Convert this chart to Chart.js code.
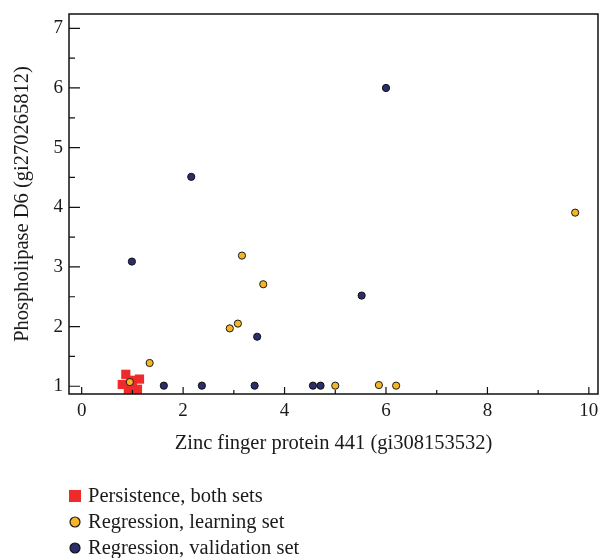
<!DOCTYPE html>
<html>
<head>
<meta charset="utf-8">
<script src="https://cdn.jsdelivr.net/npm/chart.js@4/dist/chart.umd.min.js"></script>
<style>
  html, body { margin: 0; padding: 0; background: #fff; }
  #wrap { width: 600px; height: 558px; }
</style>
</head>
<body>
<div id="wrap"><canvas id="my-chart" width="600" height="558"></canvas></div>
<script>
// data
const persistX = [0.87, 0.80, 1.14, 0.92, 1.10, 1.00, 0.97];
const persistY = [1.20, 1.03, 1.12, 0.95, 0.95, 1.00, 1.10];

const learnX = [0.95, 1.34, 2.92, 3.08, 3.16, 3.58, 5.00, 5.86, 6.20, 9.73];
const learnY = [1.07, 1.39, 1.97, 2.05, 3.19, 2.71, 1.01, 1.02, 1.01, 3.91];

const validX = [0.99, 2.16, 6.00, 5.52, 3.46, 1.62, 2.37, 3.41, 4.56, 4.71];
const validY = [3.09, 4.51, 6.00, 2.52, 1.83, 1.01, 1.01, 1.01, 1.01, 1.01];

const xTicks = [0, 2, 4, 6, 8, 10];
const xMinor = [1, 3, 5, 7, 9];
const yTicks = [1, 2, 3, 4, 5, 6, 7];
const yMinor = [1.5, 2.5, 3.5, 4.5, 5.5, 6.5];

const seriesNames = ['Persistence, both sets', 'Regression, learning set', 'Regression, validation set'];

const pts = (xs, ys) => xs.map((x, i) => ({ x: x, y: ys[i] }));
const serif = "'Liberation Serif', 'DejaVu Serif', serif";

// inward ticks + frame
const frameTicks = {
  id: 'frameTicks',
  afterDatasetsDraw: chart => {
    const ctx = chart.ctx;
    const a = chart.chartArea;
    const xs = chart.scales.x, ys = chart.scales.y;
    ctx.save();
    ctx.strokeStyle = '#111';
    ctx.lineWidth = 1.5;
    ctx.strokeRect(a.left, a.top, a.right - a.left, a.bottom - a.top);
    ctx.lineWidth = 1.2;
    ctx.beginPath();
    yTicks.forEach(v => { const p = ys.getPixelForValue(v); ctx.moveTo(a.left, p); ctx.lineTo(a.left + 11, p); });
    yMinor.forEach(v => { const p = ys.getPixelForValue(v); ctx.moveTo(a.left, p); ctx.lineTo(a.left + 6, p); });
    xTicks.forEach(v => { const p = xs.getPixelForValue(v); ctx.moveTo(p, a.bottom); ctx.lineTo(p, a.bottom - 7); });
    xMinor.forEach(v => { const p = xs.getPixelForValue(v); ctx.moveTo(p, a.bottom); ctx.lineTo(p, a.bottom - 4); });
    ctx.stroke();
    ctx.restore();
  }
};

// stacked legend under the chart
const stackLegend = {
  id: 'stackLegend',
  afterDraw: chart => {
    const ctx = chart.ctx;
    ctx.save();
    ctx.font = '20.5px ' + serif;
    ctx.textBaseline = 'middle';
    ctx.textAlign = 'left';
    chart.data.datasets.forEach((ds, i) => {
      const y = 496 + i * 26;
      const x = 75;
      ctx.fillStyle = ds.backgroundColor;
      ctx.strokeStyle = ds.borderColor;
      if (ds.pointStyle === 'rect') {
        ctx.fillRect(x - 6, y - 6, 12, 12);
      } else {
        ctx.beginPath();
        ctx.arc(x, y, 5, 0, Math.PI * 2);
        ctx.fill();
        ctx.lineWidth = 1.2;
        ctx.stroke();
      }
      ctx.fillStyle = '#1a1a1a';
      ctx.fillText(ds.label, 88, y + 1);
    });
    ctx.restore();
  }
};

new Chart(document.getElementById('my-chart'), {
  type: 'scatter',
  data: {
    datasets: [{
      label: seriesNames[0],
      data: pts(persistX, persistY),
      pointStyle: 'rect',
      pointRadius: 6.5,
      backgroundColor: '#ee2a2a',
      borderColor: '#ee2a2a',
      borderWidth: 0,
      order: 2
    }, {
      label: seriesNames[1],
      data: pts(learnX, learnY),
      pointStyle: 'circle',
      pointRadius: 3.6,
      backgroundColor: '#f6b623',
      borderColor: '#1a1a1a',
      borderWidth: 1,
      order: 0
    }, {
      label: seriesNames[2],
      data: pts(validX, validY),
      pointStyle: 'circle',
      pointRadius: 3.6,
      backgroundColor: '#2b2d6c',
      borderColor: '#111',
      borderWidth: 1,
      order: 1
    }]
  },
  options: {
    responsive: false,
    animation: false,
    layout: { autoPadding: false, padding: { left: 10, top: 14, right: 2, bottom: 102 } },
    plugins: {
      legend: { display: false },
      tooltip: { enabled: false }
    },
    scales: {
      x: {
        type: 'linear',
        min: -0.25,
        max: 10.18,
        afterBuildTicks: s => { s.ticks = xTicks.map(v => ({ value: v })); },
        afterFit: s => { s.height = 62; s.paddingRight = 0; s.paddingLeft = 0; },
        grid: { display: false, drawTicks: false },
        border: { display: false },
        ticks: { color: '#1a1a1a', padding: 6, maxRotation: 0, font: { family: serif, size: 19 } },
        title: {
          display: true,
          text: 'Zinc finger protein 441 (gi308153532)',
          color: '#1a1a1a',
          padding: { top: 2, bottom: 0 },
          font: { family: serif, size: 20.5 }
        }
      },
      y: {
        type: 'linear',
        min: 0.87,
        max: 7.24,
        afterBuildTicks: s => { s.ticks = yTicks.map(v => ({ value: v })); },
        afterFit: s => { s.width = 59; s.paddingTop = 0; s.paddingBottom = 0; },
        grid: { display: false, drawTicks: false },
        border: { display: false },
        ticks: { color: '#1a1a1a', padding: 6, font: { family: serif, size: 19 } },
        title: {
          display: true,
          text: 'Phospholipase D6 (gi270265812)',
          color: '#1a1a1a',
          padding: 0,
          font: { family: serif, size: 20.5 }
        }
      }
    }
  },
  plugins: [frameTicks, stackLegend]
});
</script>
</body>
</html>
